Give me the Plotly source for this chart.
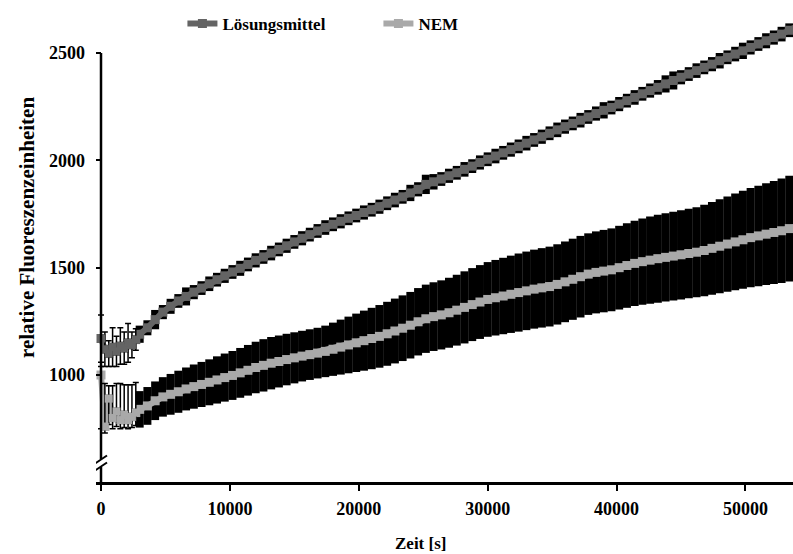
import plotly.graph_objects as go

# time grid [s]: dense start, then every 600 s
time_early = [0, 300, 600, 900, 1200, 1500, 1800, 2100, 2400, 2700]
time_main = list(range(3000, 54001, 600))

# Lösungsmittel (solvent)
loes_early = [1170, 1120, 1100, 1130, 1110, 1135, 1125, 1150, 1140, 1165]
loes_err_early = [110, 80, 60, 90, 70, 85, 75, 90, 60, 50]
loes_main = [
    1190, 1220, 1258, 1293, 1320, 1345, 1366, 1386, 1405, 1425,
    1444, 1462, 1480, 1497, 1515, 1534, 1550, 1568, 1585, 1602,
    1620, 1637, 1654, 1671, 1687, 1702, 1716, 1730, 1743, 1757,
    1770, 1784, 1800, 1815, 1830, 1848, 1865, 1888, 1900, 1913,
    1928, 1942, 1958, 1973, 1990, 2005, 2020, 2035, 2050, 2065,
    2080, 2095, 2110, 2126, 2142, 2157, 2172, 2187, 2202, 2218,
    2233, 2246, 2262, 2278, 2293, 2310, 2325, 2340, 2356, 2372,
    2387, 2402, 2418, 2433, 2448, 2464, 2480, 2495, 2510, 2526,
    2542, 2557, 2572, 2588, 2606, 2624]
loes_err_main = [
    40, 35, 45, 33, 35, 32, 42, 33, 32, 34,
    32, 33, 32, 35, 32, 33, 32, 34, 32, 33,
    32, 33, 32, 32, 34, 32, 33, 32, 32, 33,
    32, 33, 32, 34, 32, 38, 33, 45, 36, 32,
    33, 32, 34, 32, 33, 32, 34, 32, 33, 32,
    34, 32, 33, 32, 34, 33, 32, 34, 32, 33,
    38, 32, 33, 32, 34, 32, 33, 34, 40, 42,
    33, 32, 34, 32, 33, 36, 32, 34, 38, 33,
    32, 35, 33, 34, 32, 33]

# NEM
nem_early = [1000, 760, 890, 800, 830, 790, 815, 790, 805, 825]
nem_err_plus_early = [40, 200, 60, 150, 130, 170, 140, 165, 150, 140]
nem_err_minus_early = [250, 30, 120, 50, 70, 40, 60, 40, 50, 60]
nem_main = [
    840, 856, 880, 898, 910, 922, 935, 946, 956, 966,
    977, 988, 998, 1010, 1022, 1035, 1045, 1055, 1063, 1072,
    1080, 1088, 1095, 1102, 1110, 1120, 1130, 1140, 1150, 1160,
    1170, 1180, 1192, 1205, 1218, 1232, 1248, 1262, 1272, 1280,
    1290, 1302, 1315, 1328, 1340, 1352, 1360, 1368, 1376, 1384,
    1392, 1400, 1406, 1412, 1422, 1434, 1446, 1458, 1470, 1478,
    1484, 1490, 1500, 1510, 1520, 1528, 1535, 1542, 1548, 1554,
    1560, 1566, 1572, 1580, 1590, 1600, 1610, 1620, 1630, 1640,
    1648, 1656, 1664, 1672, 1682, 1692]
nem_err_main = [
    85, 88, 90, 92, 95, 98, 100, 103, 105, 107,
    110, 112, 114, 116, 118, 120, 122, 122, 121, 120,
    119, 118, 118, 118, 120, 124, 128, 132, 136, 140,
    143, 146, 149, 151, 153, 155, 157, 159, 160, 161,
    163, 165, 168, 170, 172, 174, 176, 178, 180, 182,
    183, 184, 185, 186, 187, 188, 189, 190, 190, 191,
    192, 193, 195, 197, 199, 201, 203, 205, 206, 207,
    208, 209, 210, 213, 216, 219, 222, 225, 228, 231,
    234, 237, 240, 243, 246, 249]

x_ticks = [0, 10000, 20000, 30000, 40000, 50000]
y_ticks = [1000, 1500, 2000, 2500]

LOES_COL = "#646464"
NEM_COL = "#a9a9a9"
FONT = dict(family="Liberation Serif", size=17, color="black", weight="bold")
TICKFONT = dict(family="Liberation Serif", size=18, color="black", weight="bold")
YTITLEFONT = dict(family="Liberation Serif", size=21, color="black", weight="bold")

time_all = time_early + time_main
fig = go.Figure()

def add_series(name, col, early, err_plus, err_minus, main, err_main):
    fig.add_trace(go.Scatter(
        x=time_all, y=early + main, name=name, mode="lines+markers",
        line=dict(color=col, width=6),
        marker=dict(symbol="square", size=9, color=col),
        error_y=dict(type="data", array=[0] * len(early) + err_main,
                     color="black", thickness=8, width=0),
        cliponaxis=False))
    fig.add_trace(go.Scatter(
        x=time_early, y=early, mode="markers", showlegend=False,
        marker=dict(symbol="square", size=8, color=col),
        error_y=dict(type="data", symmetric=False, array=err_plus,
                     arrayminus=err_minus, color="black",
                     thickness=1.5, width=3),
        cliponaxis=False))

add_series("Lösungsmittel", LOES_COL, loes_early, loes_err_early, loes_err_early,
           loes_main, loes_err_main)
add_series("NEM", NEM_COL, nem_early, nem_err_plus_early, nem_err_minus_early,
           nem_main, nem_err_main)

Y0, Y1 = 501.6, 2746.9
shapes = [
    # y axis line (ends at 2500)
    dict(type="line", xref="x", yref="y", x0=0, x1=0, y0=Y0, y1=2500,
         line=dict(color="black", width=2.5), layer="above"),
    # axis break: white gap + two slashes
    dict(type="line", xref="x", yref="y", xsizemode="pixel", ysizemode="pixel",
         xanchor=0, yanchor=590, x0=0, x1=0, y0=-4, y1=4,
         line=dict(color="white", width=5), layer="above"),
    dict(type="line", xref="x", yref="y", xsizemode="pixel", ysizemode="pixel",
         xanchor=0, yanchor=590, x0=-6, x1=6, y0=-0.5, y1=7.5,
         line=dict(color="black", width=2), layer="above"),
    dict(type="line", xref="x", yref="y", xsizemode="pixel", ysizemode="pixel",
         xanchor=0, yanchor=590, x0=-6, x1=6, y0=-7.5, y1=0.5,
         line=dict(color="black", width=2), layer="above"),
]

fig.update_layout(
    width=793, height=554,
    margin=dict(l=96, r=0, t=0, b=72),
    paper_bgcolor="white", plot_bgcolor="white",
    font=FONT,
    showlegend=True,
    legend=dict(orientation="h", x=0.124, y=0.9876, xanchor="left", yanchor="top",
                bgcolor="rgba(0,0,0,0)", font=FONT,
                entrywidth=151, entrywidthmode="pixels"),
    xaxis=dict(range=[-388, 53686], showgrid=False, zeroline=False,
               showline=True, linecolor="black", linewidth=2.5,
               ticks="outside", ticklen=6, tickwidth=2, tickcolor="black",
               tickvals=x_ticks, ticktext=[str(v) for v in x_ticks],
               ticklabelstandoff=3, tickfont=TICKFONT),
    yaxis=dict(range=[Y0, Y1], showgrid=False, zeroline=False, showline=False,
               ticks="inside", ticklen=5, tickwidth=2, tickcolor="black",
               tickvals=y_ticks, ticktext=[str(v) for v in y_ticks],
               ticklabelstandoff=10, tickfont=TICKFONT),
    shapes=shapes,
    annotations=[
        dict(text="Zeit [s]", xref="paper", yref="paper", x=0.465, y=-0.1266,
             xanchor="center", yanchor="middle", showarrow=False, font=FONT),
        dict(text="relative Fluoreszenzeinheiten", xref="paper", yref="paper",
             x=-0.099, y=0.529, xanchor="center", yanchor="middle",
             textangle=-90, showarrow=False, font=YTITLEFONT),
    ],
)

fig.write_html("out.html")
